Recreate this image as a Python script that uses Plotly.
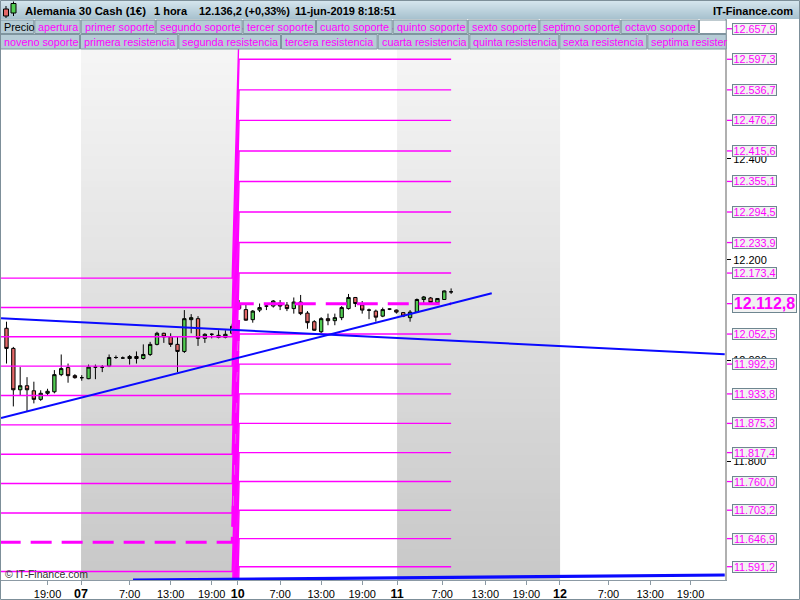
import plotly.graph_objects as go

# ---------------- data ----------------
candle_idx = list(range(66))
opens = [12064, 12024, 11942, 11950, 11940, 11923, 11935, 11938, 11972, 11986,
         11970, 11966, 11964, 11987, 11987, 11989, 12006, 12005, 12004, 12008,
         12004, 12012, 12032, 12054, 12047, 12032, 12018, 12081, 12083, 12044,
         12052, 12050, 12046, 12054,
         12113, 12101, 12081, 12100, 12108, 12108, 12114, 12110, 12103, 12116,
         12094, 12077, 12057, 12083, 12079, 12085, 12103, 12125, 12110, 12100,
         12098, 12088, 12102, 12100, 12095, 12085, 12096, 12121, 12124, 12115,
         12121, 12136.2]
highs = [12077, 12027, 11987, 11967, 11958, 11941, 11944, 11981, 12012, 11994,
         11973, 11971, 11992, 11992, 11991, 12012, 12010, 12008, 12011, 12018,
         12032, 12037, 12057, 12055, 12054, 12047, 12100, 12092, 12088, 12054,
         12054, 12060, 12060, 12073,
         12120, 12113, 12100, 12113, 12114, 12120, 12120, 12116, 12125, 12130,
         12098, 12080, 12086, 12093, 12093, 12108, 12132, 12126, 12118, 12103,
         12101, 12105, 12103, 12101, 12096, 12100, 12123, 12128, 12126, 12124,
         12139, 12143]
lows = [11994, 11909, 11931, 11898, 11915, 11920, 11931, 11935, 11969, 11956,
        11964, 11960, 11963, 11963, 11977, 11987, 12003, 12003, 11992, 11994,
        12002, 12009, 12030, 12035, 12027, 11977, 12015, 12054, 12029, 12035,
        12044, 12044, 12044, 12052,
        12101, 12079, 12075, 12096, 12100, 12105, 12100, 12098, 12093, 12090,
        12063, 12059, 12054, 12070, 12070, 12080, 12101, 12106, 12093, 12082,
        12077, 12086, 12100, 12093, 12086, 12077, 12095, 12113, 12113, 12111,
        12120, 12132]
closes = [12024, 11942, 11950, 11942, 11923, 11935, 11939, 11972, 11984, 11970,
          11966, 11966, 11987, 11987, 11987, 12006, 12006, 12005, 12008, 12004,
          12012, 12032, 12054, 12047, 12032, 12018, 12083, 12085, 12044, 12052,
          12052, 12046, 12052, 12068,
          12103, 12080, 12098, 12105, 12108, 12118, 12108, 12103, 12116, 12093,
          12075, 12060, 12083, 12079, 12085, 12105, 12125, 12113, 12100, 12100,
          12086, 12101, 12102, 12096, 12088, 12096, 12121, 12126, 12115, 12123,
          12138, 12136.2]

# pivot levels: novena..primera resistencia, apertura, primer..noveno soporte
level_names = ["novena resistencia", "octava resistencia", "septima resistencia",
               "sexta resistencia", "quinta resistencia", "cuarta resistencia",
               "tercera resistencia", "segunda resistencia", "primera resistencia",
               "apertura",
               "primer soporte", "segundo soporte", "tercer soporte", "cuarto soporte",
               "quinto soporte", "sexto soporte", "septimo soporte", "octavo soporte",
               "noveno soporte"]
fri_levels = [12163.4, 12105.2, 12047.0, 11988.8, 11930.6, 11872.4, 11814.2, 11756.0,
              11697.8, 11639.6, 11581.7, 11524.1, 11466.8, 11409.7, 11352.9, 11296.4,
              11240.2, 11184.3, 11128.7]
mon_levels = [12657.9, 12597.3, 12536.7, 12476.2, 12415.6, 12355.1, 12294.5, 12233.9,
              12173.4, 12112.8, 12052.5, 11992.9, 11933.8, 11875.3, 11817.4, 11760.0,
              11703.2, 11646.9, 11591.2]
fri_span = [-1, 33]      # candle index range of Friday levels
mon_span = [34, 65]      # candle index range of Monday/Tuesday levels

tick_pos = [6, 10.9, 18, 24, 30, 33.8, 40, 46, 52, 57.1, 63.7, 70, 76, 80.9, 88, 94.1, 100]
tick_labels = ["19:00", "07", "7:00", "13:00", "19:00", "10", "7:00", "13:00", "19:00",
               "11", "7:00", "13:00", "19:00", "12", "7:00", "13:00", "19:00"]
day_labels = ["07", "10", "11", "12"]
shade_edges = [10.9, 33.8, 57.1, 80.9]   # day 07 and day 11 sessions are shaded
price_ticks = [11800, 12000, 12200, 12400]

trend1_x, trend1_y = [-0.8, 105.0], [12083.6, 12012.5]
trend2_x, trend2_y = [-0.8, 70.94], [11885.9, 12133.3]
trend3_x, trend3_y = [18.5, 105.0], [11564.6, 11574.7]

x_range = [-0.804, 105.04]
y_range = [11564.8, 12677.2]

title_parts = ["Alemania 30 Cash (1€)", "1 hora", "12.136,2 (+0,33%)", "11-jun-2019 8:18:51"]
legend_row1 = ["Precio", "apertura", "primer soporte", "segundo soporte", "tercer soporte",
               "cuarto soporte", "quinto soporte", "sexto soporte", "septimo soporte",
               "octavo soporte", ""]
legend_row2 = ["noveno soporte", "primera resistencia", "segunda resistencia",
               "tercera resistencia", "cuarta resistencia", "quinta resistencia",
               "sexta resistencia", "septima resister"]

# ---------------- style / layout ----------------
FONT = "Liberation Sans, Arial, sans-serif"
MAG = "#ff00ff"
BLUE = "#0a0aff"
GREEN = "#52cc52"
RED = "#e46868"
W, H = 800, 600
PX_L, PX_R, PY_T, PY_B = 1, 725, 19, 580


def xp(px):
    return (px - PX_L) / (PX_R - PX_L)


def yp(py):
    return (PY_B - py) / (PY_B - PY_T)


def fmt(v, dec=1):
    s = f"{v:,.{dec}f}"
    return s.replace(",", "X").replace(".", ",").replace("X", ".")


fig = go.Figure()

# shaded sessions: vertical grey gradient drawn as a heatmap (stays beneath candles)
NB = 90
band_y = [y_range[0] + (y_range[1] - y_range[0]) * i / NB for i in range(NB + 1)]
band_z = [[i / (NB - 1), None, i / (NB - 1)] for i in range(NB)]
fig.add_trace(go.Heatmap(x=shade_edges, y=band_y, z=band_z, zmin=0, zmax=1,
                         colorscale=[[0, "#c8c8c8"], [1, "#f8f8f8"]], showscale=False,
                         hoverinfo="skip"))

# candles
reg = [i for i in candle_idx if opens[i] != closes[i]]
doj = [i for i in candle_idx if opens[i] == closes[i]]
fig.add_trace(go.Candlestick(
    x=[candle_idx[i] for i in reg], open=[opens[i] for i in reg], high=[highs[i] for i in reg],
    low=[lows[i] for i in reg], close=[closes[i] for i in reg],
    increasing=dict(fillcolor=GREEN, line=dict(color="black", width=1)),
    decreasing=dict(fillcolor=RED, line=dict(color="black", width=1)),
    whiskerwidth=0, showlegend=False, hoverinfo="skip"))
fig.add_trace(go.Candlestick(
    x=[candle_idx[i] for i in doj], open=[opens[i] for i in doj], high=[highs[i] for i in doj],
    low=[lows[i] for i in doj], close=[closes[i] for i in doj],
    increasing=dict(fillcolor="black", line=dict(color="black", width=1)),
    decreasing=dict(fillcolor="black", line=dict(color="black", width=1)),
    whiskerwidth=0, showlegend=False, hoverinfo="skip"))

# pivot level lines
AP = level_names.index("apertura")
for k in range(len(mon_levels)):
    dashed = (k == AP)
    fig.add_trace(go.Scatter(
        x=[fri_span[0], fri_span[1], mon_span[0], mon_span[1]],
        y=[fri_levels[k], fri_levels[k], mon_levels[k], mon_levels[k]],
        mode="lines",
        line=dict(color=MAG, width=3 if dashed else 1.4, dash="21px,10px" if dashed else "solid"),
        hoverinfo="skip", showlegend=False))

# trend lines
for tx, ty, w in [(trend1_x, trend1_y, 2), (trend2_x, trend2_y, 2), (trend3_x, trend3_y, 3.2)]:
    fig.add_trace(go.Scatter(x=tx, y=ty, mode="lines", line=dict(color=BLUE, width=w),
                             hoverinfo="skip", showlegend=False))

shapes = []
annotations = []

# right axis level labels
for k, v in enumerate(mon_levels):
    big = (k == AP)
    shapes.append(dict(type="line", xref="paper", yref="y", x0=xp(727), x1=xp(732), y0=v, y1=v,
                       line=dict(color=MAG, width=1.3), layer="above"))
    annotations.append(dict(
        xref="paper", yref="y", x=xp(732), y=v, xanchor="left", yanchor="middle",
        text=("<b>%s</b>" % fmt(v)) if big else fmt(v), showarrow=False,
        font=dict(family=FONT, size=16 if big else 10.8, color=MAG),
        bgcolor="#f2f2f2", bordercolor="#6e8690", borderwidth=1, borderpad=0,
        width=63 if big else 43, height=17 if big else 10))

# title bar gradient
n = 19
for i in range(n):
    t = i / (n - 1)
    c0, c1 = (214, 230, 238), (168, 194, 207)
    col = "rgb(%d,%d,%d)" % tuple(round(c0[j] + (c1[j] - c0[j]) * t) for j in range(3))
    shapes.append(dict(type="rect", xref="paper", yref="paper", x0=xp(0), x1=xp(800),
                       y0=yp(i), y1=yp(i + 1), fillcolor=col, line=dict(width=0), layer="above"))

# legend cells
row1_edges = [0, 34.3, 80.7, 155.7, 242.7, 316, 392.7, 467.7, 539.3, 620.7, 699, 726.7]
row2_edges = [0, 80, 178.3, 281, 377.7, 469.3, 559.3, 647.3, 726.7]
for names, edges, (ya, yb) in [(legend_row1, row1_edges, (19.5, 34)), (legend_row2, row2_edges, (34, 49.5))]:
    for j, name in enumerate(names):
        x0, x1 = edges[j], edges[j + 1]
        fill = "white" if name == "" else "#b6ccd6"
        shapes.append(dict(type="rect", xref="paper", yref="paper", x0=xp(x0 + 0.5), x1=xp(x1 - 0.5),
                           y0=yp(ya + 0.5), y1=yp(yb - 0.5), fillcolor=fill,
                           line=dict(color="#7f959f", width=1), layer="above"))
        if name:
            annotations.append(dict(xref="paper", yref="paper", x=xp(x0 + 2), y=yp((ya + yb) / 2 + 0.5),
                                    xanchor="left", yanchor="middle", text=name, showarrow=False,
                                    font=dict(family=FONT, size=10.8,
                                              color="black" if name == "Precio" else MAG)))

# title texts
for txt, px, fs in zip(title_parts, [23, 152, 197, 293], [11.4, 11, 11, 11]):
    annotations.append(dict(xref="paper", yref="paper", x=xp(px), y=yp(11.5), xanchor="left",
                            yanchor="middle", text="<b>%s</b>" % txt, showarrow=False,
                            font=dict(family=FONT, size=fs, color="black")))
annotations.append(dict(xref="paper", yref="paper", x=xp(795), y=yp(11.5), xanchor="right",
                        yanchor="middle", text="<b>IT-Finance.com</b>", showarrow=False,
                        font=dict(family=FONT, size=11, color="black")))
annotations.append(dict(xref="paper", yref="paper", x=xp(3), y=yp(574), xanchor="left",
                        yanchor="middle", text="© IT-Finance.com", showarrow=False,
                        font=dict(family=FONT, size=10.5, color="#303030")))

# icon (two small candles)
shapes += [
    dict(type="line", xref="paper", yref="paper", x0=xp(6), x1=xp(6), y0=yp(6), y1=yp(18),
         line=dict(color="black", width=1), layer="above"),
    dict(type="rect", xref="paper", yref="paper", x0=xp(3.5), x1=xp(8.5), y0=yp(9), y1=yp(16),
         fillcolor=RED, line=dict(color="black", width=1), layer="above"),
    dict(type="line", xref="paper", yref="paper", x0=xp(13.5), x1=xp(13.5), y0=yp(1.5), y1=yp(16),
         line=dict(color="black", width=1), layer="above"),
    dict(type="rect", xref="paper", yref="paper", x0=xp(11), x1=xp(16), y0=yp(3.5), y1=yp(13),
         fillcolor=GREEN, line=dict(color="black", width=1), layer="above"),
]

# outer frame
shapes.append(dict(type="rect", xref="paper", yref="paper", x0=xp(0.5), x1=xp(799.5),
                   y0=yp(0.5), y1=yp(599.5), line=dict(color="#7d8f99", width=1),
                   fillcolor="rgba(0,0,0,0)", layer="above"))

ticktext = [("<b><span style='font-size:12.5px'>%s</span></b>" % t) if t in day_labels else t
            for t in tick_labels]

fig.update_layout(
    width=W, height=H,
    margin=dict(l=PX_L, r=W - PX_R, t=PY_T, b=H - PY_B, autoexpand=False),
    paper_bgcolor="white", plot_bgcolor="white",
    separators=",.", showlegend=False,
    font=dict(family=FONT, size=11, color="black"),
    xaxis=dict(range=x_range, tickmode="array", tickvals=tick_pos, ticktext=ticktext,
               ticks="outside", ticklen=4, tickcolor="#8c9aa4", showline=True,
               linecolor="#8c9aa4", linewidth=1, showgrid=False, zeroline=False,
               rangeslider=dict(visible=False), automargin=False,
               tickfont=dict(family=FONT, size=11, color="black")),
    yaxis=dict(range=y_range, side="right", tickmode="array", tickvals=price_ticks,
               tickformat=",.0f", ticks="outside", ticklen=4, tickcolor="black",
               showline=True, linecolor="#b0b0b0", linewidth=2, showgrid=False,
               zeroline=False, automargin=False,
               tickfont=dict(family=FONT, size=11, color="black")),
    shapes=shapes, annotations=annotations,
)

fig.write_html("out.html", config={"displayModeBar": False},
               post_script="document.body.style.margin='0';document.body.style.overflow='hidden';")
